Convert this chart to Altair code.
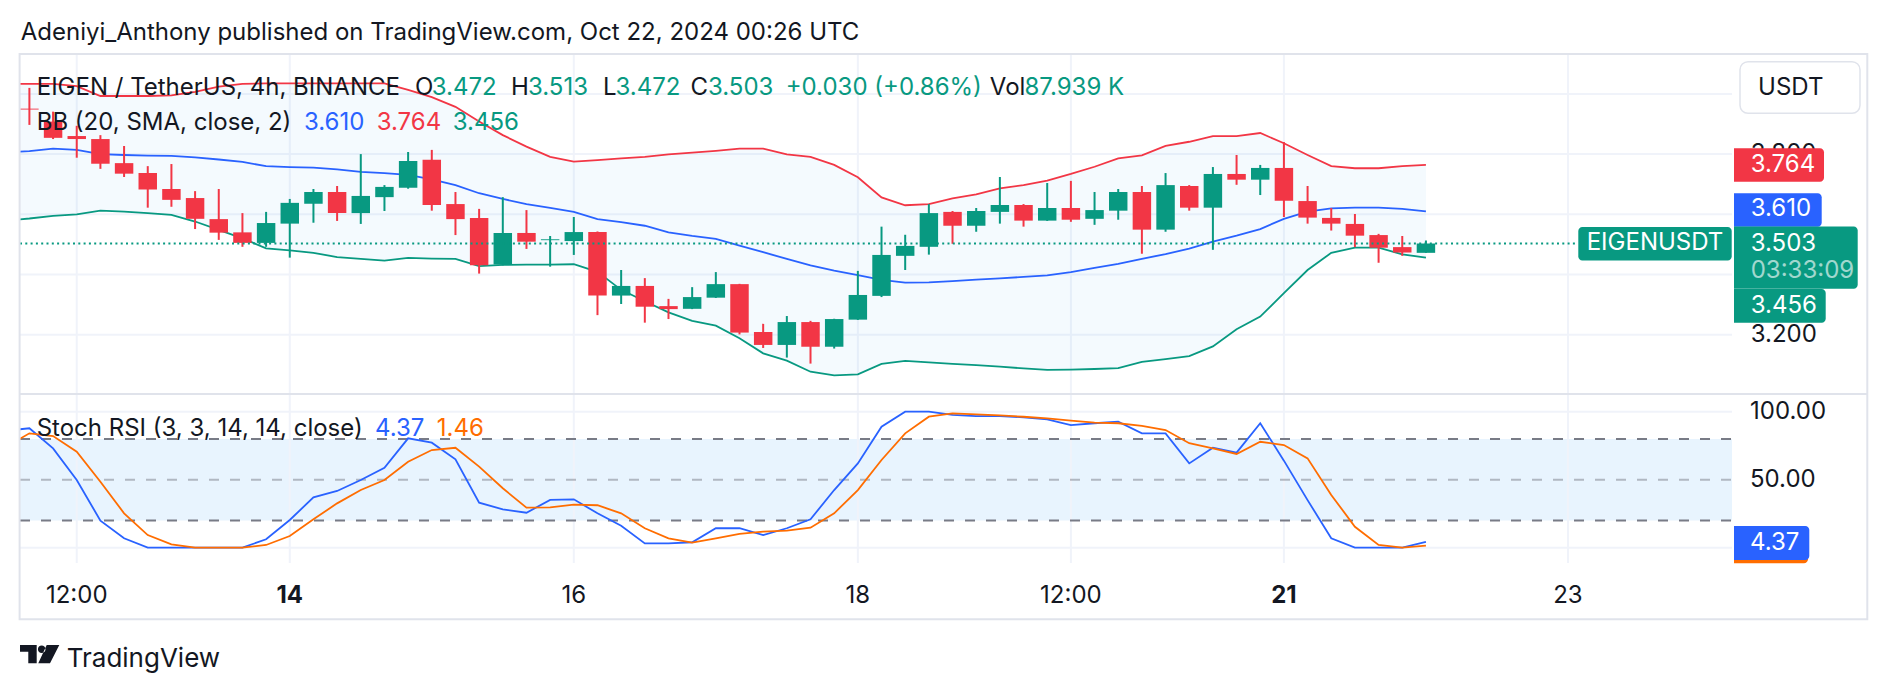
import altair as alt
import pandas as pd

# ---------------- data ----------------
opens = [3.951, 3.908, 3.860, 3.850, 3.770, 3.737, 3.684, 3.654, 3.584, 3.540,
         3.505, 3.569, 3.635, 3.674, 3.604, 3.657, 3.688, 3.781, 3.634, 3.588,
         3.433, 3.538, 3.514, 3.511, 3.541, 3.330, 3.362, 3.295, 3.286, 3.323,
         3.368, 3.209, 3.166, 3.242, 3.160, 3.250, 3.329, 3.462, 3.492, 3.608,
         3.562, 3.608, 3.631, 3.579, 3.621, 3.585, 3.612, 3.674, 3.549, 3.694,
         3.622, 3.734, 3.715, 3.754, 3.644, 3.588, 3.568, 3.531, 3.491, 3.472]
highs = [4.020, 3.941, 3.894, 3.863, 3.827, 3.760, 3.767, 3.677, 3.684, 3.604,
         3.608, 3.651, 3.684, 3.694, 3.800, 3.697, 3.807, 3.814, 3.674, 3.618,
         3.657, 3.614, 3.528, 3.591, 3.543, 3.415, 3.388, 3.319, 3.358, 3.408,
         3.369, 3.236, 3.262, 3.246, 3.253, 3.412, 3.559, 3.532, 3.634, 3.611,
         3.621, 3.724, 3.634, 3.704, 3.711, 3.674, 3.684, 3.694, 3.737, 3.697,
         3.757, 3.797, 3.764, 3.840, 3.694, 3.621, 3.601, 3.535, 3.528, 3.513]
lows = [3.897, 3.850, 3.788, 3.751, 3.724, 3.622, 3.625, 3.551, 3.515, 3.492,
        3.492, 3.456, 3.572, 3.578, 3.568, 3.611, 3.685, 3.612, 3.531, 3.403,
        3.430, 3.485, 3.426, 3.465, 3.265, 3.302, 3.240, 3.252, 3.285, 3.322,
        3.201, 3.156, 3.124, 3.104, 3.154, 3.249, 3.325, 3.415, 3.466, 3.502,
        3.542, 3.569, 3.559, 3.578, 3.575, 3.565, 3.582, 3.469, 3.542, 3.612,
        3.482, 3.698, 3.664, 3.591, 3.569, 3.546, 3.491, 3.439, 3.462, 3.472]
closes = [3.948, 3.854, 3.850, 3.768, 3.735, 3.682, 3.648, 3.585, 3.539, 3.505,
          3.571, 3.638, 3.674, 3.604, 3.661, 3.691, 3.777, 3.631, 3.584, 3.431,
          3.538, 3.509, 3.517, 3.541, 3.330, 3.362, 3.293, 3.285, 3.325, 3.368,
          3.207, 3.166, 3.242, 3.160, 3.252, 3.332, 3.465, 3.495, 3.604, 3.562,
          3.611, 3.631, 3.579, 3.621, 3.582, 3.614, 3.674, 3.549, 3.697, 3.622,
          3.734, 3.715, 3.754, 3.645, 3.589, 3.569, 3.529, 3.489, 3.473, 3.503]
volume_last_k = 87.939

# indicator series, bar index -1 .. 59
bb_upper = [4.033, 4.033, 4.033, 4.026, 3.993, 3.993, 3.993, 3.995, 4.007, 4.024,
            4.033, 4.035, 4.035, 4.035, 4.035, 4.035, 4.035, 4.013, 3.989, 3.957,
            3.908, 3.863, 3.825, 3.791, 3.775, 3.780, 3.786, 3.791, 3.799, 3.805,
            3.811, 3.818, 3.818, 3.799, 3.791, 3.764, 3.723, 3.656, 3.630, 3.634,
            3.653, 3.666, 3.686, 3.697, 3.712, 3.734, 3.758, 3.786, 3.796, 3.827,
            3.841, 3.860, 3.860, 3.870, 3.836, 3.797, 3.760, 3.753, 3.753, 3.760, 3.764]
bb_middle = [3.805, 3.810, 3.818, 3.814, 3.800, 3.797, 3.795, 3.794, 3.789, 3.782,
             3.774, 3.760, 3.757, 3.755, 3.749, 3.741, 3.737, 3.731, 3.716, 3.697,
             3.670, 3.651, 3.634, 3.621, 3.608, 3.584, 3.574, 3.562, 3.540, 3.528,
             3.518, 3.496, 3.474, 3.452, 3.430, 3.413, 3.398, 3.382, 3.373, 3.374,
             3.378, 3.383, 3.387, 3.392, 3.397, 3.408, 3.422, 3.435, 3.452, 3.468,
             3.486, 3.509, 3.529, 3.551, 3.585, 3.609, 3.620, 3.622, 3.622, 3.618, 3.610]
bb_lower = [3.579, 3.586, 3.595, 3.600, 3.612, 3.609, 3.604, 3.598, 3.576, 3.548,
            3.520, 3.487, 3.480, 3.472, 3.458, 3.452, 3.446, 3.455, 3.453, 3.452,
            3.428, 3.432, 3.433, 3.433, 3.434, 3.409, 3.349, 3.311, 3.274, 3.246,
            3.230, 3.188, 3.138, 3.114, 3.077, 3.065, 3.068, 3.103, 3.113, 3.108,
            3.103, 3.099, 3.094, 3.088, 3.083, 3.084, 3.086, 3.089, 3.110, 3.119,
            3.129, 3.161, 3.218, 3.260, 3.338, 3.415, 3.472, 3.489, 3.489, 3.467, 3.456]
stoch_k = [86.0, 87.8, 73.0, 49.8, 19.9, 6.9, 0, 0, 0, 0,
           0, 6.2, 20.4, 37.0, 41.7, 49.8, 58.8, 80.4, 77.2, 65.0,
           33.1, 28.2, 25.7, 35.1, 35.6, 25.3, 16.2, 3.2, 3.2, 4.0,
           14.3, 14.3, 9.3, 14.3, 20.9, 42.4, 62.0, 89.0, 100, 100,
           97.6, 96.8, 96.8, 95.9, 94.4, 90.2, 91.5, 92.7, 84.1, 84.1,
           62.0, 73.5, 69.9, 91.5, 64.0, 35.0, 6.9, 0, 0, 0, 4.37]
stoch_d = [74.0, 84.1, 82.1, 70.6, 48.5, 25.3, 9.3, 2.5, 0, 0,
           0, 2.0, 8.6, 20.9, 32.6, 42.4, 49.8, 63.2, 71.8, 73.5,
           59.6, 43.7, 29.4, 29.7, 31.6, 31.2, 25.3, 14.3, 6.9, 3.7,
           6.9, 10.1, 11.8, 12.5, 14.7, 25.3, 42.4, 64.5, 84.1, 96.3,
           98.8, 98.1, 97.3, 96.3, 95.1, 93.4, 91.9, 91.5, 89.5, 86.5,
           76.8, 73.1, 68.9, 77.9, 75.5, 65.7, 38.8, 15.4, 2.0, 0, 1.46]

price_grid = [3.2, 3.4, 3.6, 3.8, 4.0]
stoch_grid = [0, 100]
stoch_levels = [80, 50, 20]
stoch_level_opacity = [1.0, 0.5, 1.0]
stoch_axis_values = [100, 50]
time_pos = [2, 11, 23, 35, 44, 53, 65]
time_labels = ["12:00", "14", "16", "18", "12:00", "21", "23"]
time_bold = [False, True, False, False, False, True, False]

# ---------------- layout ----------------
W, H, LEFT, RIGHT = 1712, 690, 20, 156
FIRST_X, STEP = 29.4, 23.67
X_DOMAIN = [(LEFT - FIRST_X) / STEP, (LEFT + W - FIRST_X) / STEP]
P_DOMAIN = [3.2 - (H - 334.7) / 301.0, 3.2 + 334.7 / 301.0]
S_DOMAIN = [-(H - 547.7) / 1.36, 547.7 / 1.36]

GREEN, RED, BLUE, ORANGE = "#089981", "#f23645", "#2962ff", "#ff6d00"
TEXT, GRID, BORDER = "#131722", "#f0f3fa", "#e0e3eb"
FONT = "Inter"
FS = 24


def X(field="i"):
    return alt.X(f"{field}:Q", scale=alt.Scale(domain=X_DOMAIN, nice=False, zero=False), axis=None)


def PY(field):
    return alt.Y(f"{field}:Q", scale=alt.Scale(domain=P_DOMAIN, nice=False, zero=False), axis=None)


def SY(field):
    return alt.Y(f"{field}:Q", scale=alt.Scale(domain=S_DOMAIN, nice=False, zero=False), axis=None)


one = pd.DataFrame({"k": [0]})


def text_at(s, x, y, color=TEXT, size=FS, weight="normal", align="left",
            baseline="alphabetic", opacity=1.0):
    return alt.Chart(one).mark_text(
        text=s, font=FONT, fontSize=size, fontWeight=weight, align=align,
        baseline=baseline, color=color, opacity=opacity
    ).encode(x=alt.value(x), y=alt.value(y))


candles = pd.DataFrame({"i": list(range(len(opens))), "open": opens, "high": highs,
                        "low": lows, "close": closes})
candles["top"] = candles[["open", "close"]].max(axis=1)
candles["bot"] = candles[["open", "close"]].min(axis=1)
candles["dir"] = ["up" if c >= o else "down" for o, c in zip(opens, closes)]

ind = pd.DataFrame({"i": list(range(-1, len(opens))), "upper": bb_upper, "middle": bb_middle,
                    "lower": bb_lower, "k": stoch_k, "d": stoch_d})

dir_color = alt.Color("dir:N", scale=alt.Scale(domain=["up", "down"], range=[GREEN, RED]), legend=None)

layers = []

# stoch background band 20..80
layers.append(alt.Chart(pd.DataFrame({"lo": [stoch_levels[2]], "hi": [stoch_levels[0]]}))
              .mark_rect(color="#2196f3", opacity=0.1)
              .encode(x=alt.value(0), x2=alt.value(W), y=SY("hi"), y2="lo"))

# grids
layers.append(alt.Chart(pd.DataFrame({"v": price_grid})).mark_rule(color=GRID, strokeWidth=2)
              .encode(x=alt.value(0), x2=alt.value(W), y=PY("v")))
layers.append(alt.Chart(pd.DataFrame({"v": stoch_grid})).mark_rule(color=GRID, strokeWidth=2)
              .encode(x=alt.value(0), x2=alt.value(W), y=SY("v")))
tdf = pd.DataFrame({"i": time_pos, "label": time_labels, "bold": time_bold})
layers.append(alt.Chart(tdf).mark_rule(color=GRID, strokeWidth=2)
              .encode(x=X(), y=alt.value(54), y2=alt.value(563)))

# stoch dashed levels
layers.append(alt.Chart(pd.DataFrame({"v": stoch_levels, "op": stoch_level_opacity}))
              .mark_rule(color="#787b86", strokeWidth=2, strokeDash=[10, 11])
              .encode(x=alt.value(0), x2=alt.value(W), y=SY("v"),
                      opacity=alt.Opacity("op:Q", scale=None)))

# Bollinger fill + lines
layers.append(alt.Chart(ind).mark_area(color="#2196f3", opacity=0.05, clip=True)
              .encode(x=X(), y=PY("upper"), y2="lower"))
for fld, col in [("upper", RED), ("middle", BLUE), ("lower", GREEN)]:
    layers.append(alt.Chart(ind).mark_line(color=col, strokeWidth=1.8, clip=True)
                  .encode(x=X(), y=PY(fld)))

# candles
layers.append(alt.Chart(candles).mark_rule(strokeWidth=2)
              .encode(x=X(), y=PY("high"), y2="low", color=dir_color))
layers.append(alt.Chart(candles)
              .transform_calculate(x0="datum.i - 0.39", x1="datum.i + 0.39")
              .mark_rect()
              .encode(x=X("x0"), x2="x1", y=PY("top"), y2="bot", color=dir_color))

# last price dotted line
last = pd.DataFrame({"p": [closes[-1]]})
layers.append(alt.Chart(last).mark_rule(color=GREEN, strokeWidth=1.8, strokeDash=[2, 3.3])
              .encode(x=alt.value(0), x2=alt.value(1556), y=PY("p")))

# stoch lines
layers.append(alt.Chart(ind).mark_line(color=BLUE, strokeWidth=1.8, clip=True)
              .encode(x=X(), y=SY("k")))
layers.append(alt.Chart(ind).mark_line(color=ORANGE, strokeWidth=1.8, clip=True)
              .encode(x=X(), y=SY("d")))

# frame and pane separator
layers.append(alt.Chart(one).mark_rect(fillOpacity=0, stroke=BORDER, strokeWidth=2)
              .encode(x=alt.value(-0.4), x2=alt.value(1847.3), y=alt.value(54), y2=alt.value(619.3)))
layers.append(alt.Chart(one).mark_rule(color=BORDER, strokeWidth=2)
              .encode(x=alt.value(0), x2=alt.value(1847.3), y=alt.value(394)))

# legends
fmt3 = lambda v: f"{v:.3f}"
chg = closes[-1] - closes[-2]
pct = chg / closes[-2] * 100
line1 = [("EIGEN / TetherUS, 4h, BINANCE", 16.7, TEXT), ("O", 395, TEXT), (fmt3(opens[-1]), 411.7, GREEN),
         ("H", 491, TEXT), (fmt3(highs[-1]), 508, GREEN), ("L", 583, TEXT), (fmt3(lows[-1]), 595.5, GREEN),
         ("C", 670.6, TEXT), (fmt3(closes[-1]), 688, GREEN),
         (f"{chg:+.3f} ({pct:+.2f}%)", 765.7, GREEN), ("Vol", 969.8, TEXT),
         (f"{volume_last_k:.3f} K", 1004.5, GREEN)]
for s, x, c in line1:
    layers.append(text_at(s, x, 95, color=c))
line2 = [("BB (20, SMA, close, 2)", 16.7, TEXT), (fmt3(bb_middle[-1]), 284, BLUE),
         (fmt3(bb_upper[-1]), 356.7, RED), (fmt3(bb_lower[-1]), 432.7, GREEN)]
for s, x, c in line2:
    layers.append(text_at(s, x, 130, color=c))
line3 = [("Stoch RSI (3, 3, 14, 14, close)", 16.7, TEXT), (f"{stoch_k[-1]:.2f}", 355, BLUE),
         (f"{stoch_d[-1]:.2f}", 416.7, ORANGE)]
for s, x, c in line3:
    layers.append(text_at(s, x, 435.7, color=c))

# right price scale labels
pg = pd.DataFrame({"v": price_grid, "label": [f"{v:.3f}" for v in price_grid]})
layers.append(alt.Chart(pg).mark_text(font=FONT, fontSize=FS, align="left", baseline="middle", color=TEXT)
              .encode(x=alt.value(1730.7), y=PY("v"), text="label:N"))
sg = pd.DataFrame({"v": stoch_axis_values, "label": [f"{v:.2f}" for v in stoch_axis_values]})
layers.append(alt.Chart(sg).mark_text(font=FONT, fontSize=FS, align="left", baseline="middle", color=TEXT)
              .encode(x=alt.value(1730), y=SY("v"), text="label:N"))


def price_box(value, color, x1, x2, off1, off2, ydef=PY, radius_left=0, radius_right=4):
    d = pd.DataFrame({"v": [value]})
    return alt.Chart(d).mark_rect(color=color, yOffset=off1, y2Offset=off2,
                                  cornerRadiusTopRight=radius_right, cornerRadiusBottomRight=radius_right,
                                  cornerRadiusTopLeft=radius_left, cornerRadiusBottomLeft=radius_left
                                  ).encode(x=alt.value(x1), x2=alt.value(x2), y=ydef("v"), y2="v")


def box_text(value, s, x, dy=0.0, ydef=PY, color="white", opacity=1.0, align="left"):
    d = pd.DataFrame({"v": [value]})
    return alt.Chart(d).mark_text(text=s, font=FONT, fontSize=FS, align=align, baseline="middle",
                                  color=color, opacity=opacity, dy=dy
                                  ).encode(x=alt.value(x), y=ydef("v"))


# USDT button
layers.append(alt.Chart(one).mark_rect(fill="white", stroke=BORDER, strokeWidth=1.5, cornerRadius=8)
              .encode(x=alt.value(1720), x2=alt.value(1840), y=alt.value(61.7), y2=alt.value(113.3)))
layers.append(text_at("USDT", 1770.7, 87.5, align="center", baseline="middle"))

# indicator / price labels on the scale
layers.append(price_box(bb_upper[-1], RED, 1714, 1804, -16.7, 16.7))
layers.append(box_text(bb_upper[-1], fmt3(bb_upper[-1]), 1730.7))
layers.append(price_box(bb_middle[-1], BLUE, 1714, 1801.7, -18.0, 15.4))
layers.append(box_text(bb_middle[-1], fmt3(bb_middle[-1]), 1730.7, dy=-2))
layers.append(price_box(closes[-1], GREEN, 1714, 1837.7, -17.1, 45.2))
layers.append(box_text(closes[-1], fmt3(closes[-1]), 1730.7, dy=0.5))
layers.append(box_text(closes[-1], "03:33:09", 1730.7, dy=28, opacity=0.62))
layers.append(price_box(bb_lower[-1], GREEN, 1714, 1805.7, 31.4, 65.1))
layers.append(box_text(bb_lower[-1], fmt3(bb_lower[-1]), 1730.7, dy=48))
layers.append(price_box(closes[-1], GREEN, 1558.3, 1711.7, -16.5, 16.9, radius_left=4))
layers.append(box_text(closes[-1], "EIGENUSDT", 1635, dy=0, align="center"))

# stoch labels on the scale
layers.append(price_box(stoch_d[-1], ORANGE, 1714, 1788, -16.4, 17.6, ydef=SY))
layers.append(price_box(stoch_k[-1], BLUE, 1714, 1789.3, -15.8, 18.2, ydef=SY))
layers.append(box_text(stoch_k[-1], f"{stoch_k[-1]:.2f}", 1730, dy=1.2, ydef=SY))

# time axis labels
layers.append(alt.Chart(tdf[~tdf["bold"]]).mark_text(font=FONT, fontSize=FS, align="center",
                                                     baseline="alphabetic", color=TEXT)
              .encode(x=X(), y=alt.value(602.7), text="label:N"))
layers.append(alt.Chart(tdf[tdf["bold"]]).mark_text(font=FONT, fontSize=FS, fontWeight="bold",
                                                    align="center", baseline="alphabetic", color=TEXT)
              .encode(x=X(), y=alt.value(602.7), text="label:N"))

# title
layers.append(text_at("Adeniyi_Anthony published on TradingView.com, Oct 22, 2024 00:26 UTC", 0.7, 40))

# TradingView logo
logo_path = ("M-1,-0.466 L-0.15,-0.466 L-0.15,0.466 L-0.578,0.466 L-0.578,-0.125 L-1,-0.125 Z "
             "M-0.089,-0.247 A0.193,0.193 0 1,0 0.297,-0.247 A0.193,0.193 0 1,0 -0.089,-0.247 Z "
             "M0.359,-0.466 L1,-0.466 L0.527,0.466 L-0.069,0.466 Z")
layers.append(alt.Chart(one).mark_point(shape=logo_path, filled=True, size=1544.5, color=TEXT,
                                        opacity=1, strokeWidth=0)
              .encode(x=alt.value(19.65), y=alt.value(654.15)))
layers.append(text_at("TradingView", 46.7, 666.7, size=26))

chart = alt.layer(*layers).resolve_scale(y="independent").properties(
    width=W, height=H,
    padding={"left": LEFT, "top": 0, "right": RIGHT, "bottom": 0},
    autosize=alt.AutoSizeParams(type="none"),
    background="white",
).configure_view(strokeWidth=0)

chart.save("out.html", embed_options={"renderer": "svg", "actions": False})
